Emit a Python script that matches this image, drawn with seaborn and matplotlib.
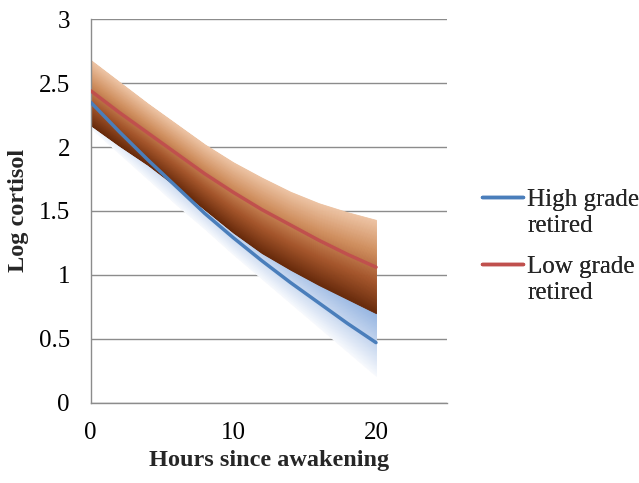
import numpy as np
import pandas as pd
import matplotlib
matplotlib.use("Agg")
import matplotlib.pyplot as plt
import seaborn as sns
from matplotlib.colors import LinearSegmentedColormap
from matplotlib.lines import Line2D

# values (every 2 hours)
hours = [0, 2, 4, 6, 8, 10, 12, 14, 16, 18, 20]
high_grade = [2.35, 2.12, 1.90, 1.69, 1.48, 1.29, 1.11, 0.94, 0.78, 0.62, 0.47]
high_upper = [2.50, 2.30, 2.10, 1.90, 1.70, 1.50, 1.34, 1.18, 1.03, 0.88, 0.73]
high_lower = [2.15, 1.95, 1.75, 1.55, 1.36, 1.16, 0.97, 0.78, 0.59, 0.40, 0.21]
low_grade = [2.44, 2.27, 2.11, 1.95, 1.79, 1.645, 1.51, 1.39, 1.27, 1.16, 1.06]
low_upper = [2.68, 2.51, 2.34, 2.18, 2.02, 1.88, 1.76, 1.65, 1.56, 1.49, 1.43]
low_lower = [2.17, 2.01, 1.86, 1.69, 1.51, 1.33, 1.17, 1.04, 0.92, 0.81, 0.70]
series = ["High grade", "Low grade"]

sns.set_theme(style="white")
plt.rcParams["font.family"] = ["Liberation Serif", "DejaVu Serif"]

fig = plt.figure(figsize=(6.39, 4.83), dpi=100)
ax = fig.add_axes([0.142, 0.1663, 0.558, 0.794])

x = np.array(hours)


def gradient_band(lo, hi, cmap, n=80):
    lo = np.array(lo)
    hi = np.array(hi)
    for k in range(n):
        a = lo + (hi - lo) * k / n
        b = lo + (hi - lo) * (k + 1) / n
        c = cmap(k / (n - 1))
        ax.fill_between(x, a, b, color=c, lw=0.6, edgecolor=c, zorder=2)


blue_cmap = LinearSegmentedColormap.from_list("b", ["#f8fafd", "#c4d5ee", "#93b3e0"])
red_cmap = LinearSegmentedColormap.from_list("r", ["#672a0b", "#a3542a", "#cf8e5e", "#ecc2a2"])

gradient_band(high_lower, high_upper, blue_cmap)
gradient_band(low_lower, low_upper, red_cmap)

df = pd.DataFrame({
    "Hours": hours * 2,
    "Log cortisol": high_grade + low_grade,
    "Group": [series[0]] * len(hours) + [series[1]] * len(hours),
})
sns.lineplot(data=df, x="Hours", y="Log cortisol", hue="Group",
             palette=["#4a7ebb", "#c0504d"], lw=2.5, ax=ax, legend=False, zorder=4)

ax.set_xlim(0, 25)
ax.set_ylim(0, 3)
ax.set_xticks([0, 10, 20])
ax.set_yticks(np.arange(0, 3.01, 0.5))
ax.set_yticklabels(["0", "0.5", "1", "1.5", "2", "2.5", "3"])
ax.yaxis.grid(True, color="#8c8c8c", lw=1.0, zorder=0)
ax.set_axisbelow(True)
for s in ["top", "right"]:
    ax.spines[s].set_visible(False)
for s in ["left", "bottom"]:
    ax.spines[s].set_color("#8c8c8c")
    ax.spines[s].set_linewidth(1.0)
ax.tick_params(axis="both", which="both", direction="out", length=5, width=1.0,
               color="#8c8c8c", labelsize=18, labelcolor="black")
ax.tick_params(axis="x", pad=9)
ax.tick_params(axis="y", pad=10)
ax.set_xlabel("Hours since awakening", fontsize=17.5, fontweight="bold", labelpad=4)
ax.set_ylabel("Log cortisol", fontsize=17.5, fontweight="bold", labelpad=7)

lines = ax.get_lines()[:2]
blank = Line2D([], [], color="none")
for line, name, ypos in [(lines[0], series[0], 0.559), (lines[1], series[1], 0.4215)]:
    leg = fig.legend([line, blank], [name, "retired"], loc="center left",
                     bbox_to_anchor=(0.754, ypos), frameon=False, fontsize=18,
                     handlelength=1.65, handletextpad=0.16, labelspacing=0.15,
                     borderpad=0, borderaxespad=0)
    fig.add_artist(leg)

fig.savefig("out.png", dpi=100)
